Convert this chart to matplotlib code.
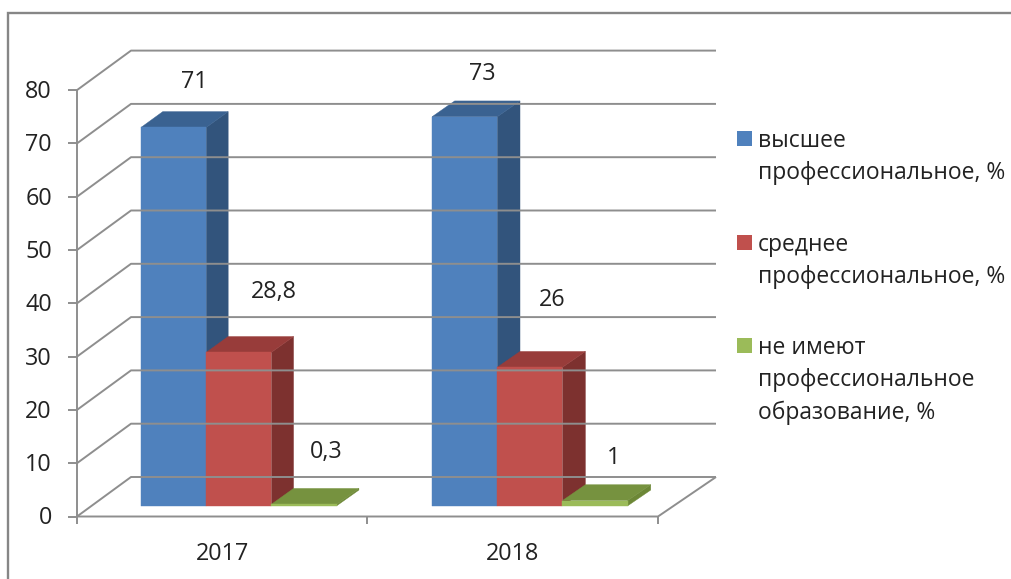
import matplotlib
matplotlib.use("Agg")
import matplotlib.pyplot as plt
from matplotlib.patches import Polygon, Rectangle

plt.rcParams["font.family"] = ["Open Sans", "DejaVu Sans"]

# Data
years = ["2017", "2018"]
series_names = [
    "высшее\nпрофессиональное, %",
    "среднее\nпрофессиональное, %",
    "не имеют\nпрофессиональное\nобразование, %",
]
higher = [71, 73]
secondary = [28.8, 26]
none_prof = [0.3, 1]
value_labels = [["71", "73"], ["28,8", "26"], ["0,3", "1"]]
y_ticks = [0, 10, 20, 30, 40, 50, 60, 70, 80]

# Styles: front, top, side
colors = [
    ("#4F81BD", "#3A6291", "#32547C"),
    ("#C0504D", "#983C3A", "#7D312F"),
    ("#9BBB59", "#76923F", "#6C8736"),
]
grid_color = "#8E8E8E"
text_color = "#222222"

# Pixel layout of the fake 3D box
X0, Y0 = 77.0, 516.5
WIDTH_FRONT, WIDTH_BACK = 581.0, 585.0
DEPTH_X, DEPTH_Y = 54.0, -39.5
PX_PER_UNIT = 5.33
GAP = 0.17
BAR_W = 0.224
Z0, Z1 = 0.27, 0.67


def project(x, value, z):
    """x in category units, value on the y axis, z is depth 0..1"""
    width = WIDTH_FRONT + (WIDTH_BACK - WIDTH_FRONT) * z
    return (X0 + DEPTH_X * z + x * width / len(years), Y0 + DEPTH_Y * z - value * PX_PER_UNIT)


def draw_bar(ax, x, value, cols):
    front, top, side = cols
    x1 = x + BAR_W
    ax.add_patch(Polygon([project(x1, 0, Z0), project(x1, 0, Z1), project(x1, value, Z1), project(x1, value, Z0)],
                         closed=True, fc=side, ec=side, lw=0.3))
    ax.add_patch(Polygon([project(x, value, Z0), project(x1, value, Z0), project(x1, value, Z1), project(x, value, Z1)],
                         closed=True, fc=top, ec=top, lw=0.3))
    ax.add_patch(Polygon([project(x, 0, Z0), project(x1, 0, Z0), project(x1, value, Z0), project(x, value, Z0)],
                         closed=True, fc=front, ec=front, lw=0.3))


fig = plt.figure(figsize=(10.12, 5.79), dpi=100)
ax = fig.add_axes([0, 0, 1, 1])
ax.set_xlim(0, 1012)
ax.set_ylim(579, 0)
ax.axis("off")

# Outer frame, runs off the right and bottom of the picture
ax.plot([8, 8, 1012], [579, 13, 13], color="#868686", lw=1.7, solid_joinstyle="miter")

# Walls
n = len(years)
line = dict(color=grid_color, lw=1.4, solid_capstyle="butt")
for v in y_ticks:
    x_a, y_a = project(0, v, 0)
    x_b, y_b = project(0, v, 1)
    x_c, y_c = project(n, v, 1)
    ax.plot([x_a, x_b, x_c], [y_a, y_b, y_c], **line)
    ax.plot([x_a - 9, x_a], [y_a, y_a], **line)
    ax.text(x_a - 25, y_a + 2, str(v), ha="right", va="center", fontsize=16.8, color=text_color)

# Floor and axes
ax.plot(*zip(project(0, 0, 0), project(0, y_ticks[-1], 0)), **line)
ax.plot(*zip(project(0, 0, 0), project(n, 0, 0), project(n, 0, 1)), **line)
for i in range(n + 1):
    x_t, y_t = project(i, 0, 0)
    ax.plot([x_t, x_t], [y_t, y_t + 7], **line)

# Bars
all_series = [higher, secondary, none_prof]
for i in range(n):
    for s, values in enumerate(all_series):
        draw_bar(ax, i + GAP + s * BAR_W, values[i], colors[s])

for i, year in enumerate(years):
    x_t, y_t = project(i + 0.5, 0, 0)
    ax.text(x_t, y_t + 38, year, ha="center", va="center", fontsize=16.8, color=text_color)

# Data labels, offsets from the centre of the bar's front top edge
label_offsets = [[(21, -45), (18, -43)], [(35, -60), (22, -67)], [(22, -52), (18, -43)]]
for s, values in enumerate(all_series):
    for i, v in enumerate(values):
        x_c, y_c = project(i + GAP + (s + 0.5) * BAR_W, v, Z0)
        dx, dy = label_offsets[s][i]
        ax.text(x_c + dx, y_c + dy, value_labels[s][i], ha="center", va="center", fontsize=16.8, color=text_color)

# Legend
legend_y = [139, 243, 346]
for name, cols, y in zip(series_names, colors, legend_y):
    ax.add_patch(Rectangle((737, y - 8), 15, 15, fc=cols[0], ec="none"))
    ax.text(758, y - 10, name, ha="left", va="top", fontsize=16.5, color=text_color, linespacing=1.47)

fig.savefig("out.png", dpi=100)
